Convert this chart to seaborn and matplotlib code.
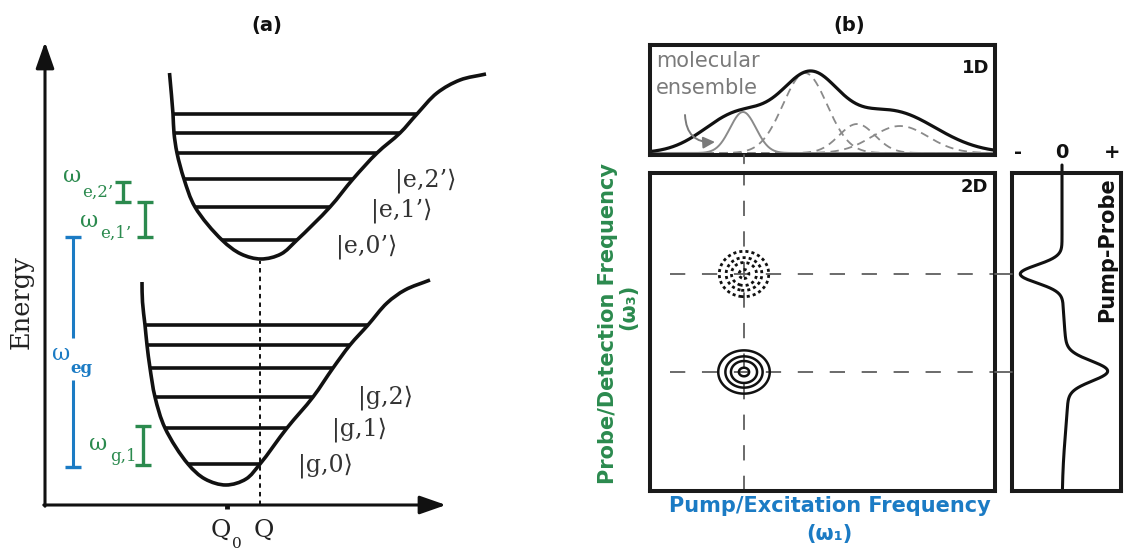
import numpy as np
import matplotlib
matplotlib.use("Agg")
import matplotlib.pyplot as plt
import seaborn as sns
from matplotlib.path import Path
from matplotlib.patches import PathPatch, ConnectionPatch

# ---------------------------------------------------------------------------
# Panel (a): displaced potential wells (x = nuclear coordinate, y = energy)
# ---------------------------------------------------------------------------
g_levels = [88, 124, 155, 184, 207, 227]          # ground-state vibrational levels
g_left = [188, 165, 155, 150, 147, 145]           # inner turning points
g_right = [260, 287, 313, 333, 350, 368]          # outer turning points
g_wall_top = [[142, 270], [142.5, 250]]
g_floor = [[205, 73], [226, 67], [246, 73]]
g_shoulder = [[387, 249], [405, 262], [430, 272]]

e_levels = [312, 345, 373, 399, 419, 438]          # excited-state vibrational levels
e_left = [222, 195, 184, 177, 174, 173]
e_right = [297, 330, 353, 377, 400, 417]
e_wall_top = [[169.5, 479]]
e_floor = [[241, 298], [261, 293], [281, 298]]
e_shoulder = [[437, 459], [460, 472], [486, 478]]

Q0, Q = 227, 260
axis_origin = [45, 47]
axis_tip_E = 510
axis_tip_Q = 446

g_kets = ["|g,0⟩", "|g,1⟩", "|g,2⟩"]
g_ket_pos = [[298, 86], [332, 122], [358, 154]]
e_kets = ["|e,0’⟩", "|e,1’⟩", "|e,2’⟩"]
e_ket_pos = [[336, 305], [371, 341], [395, 371]]

# frequency bars: x, lower energy, upper energy
bar_subs = ["e,2’", "e,1’", "eg", "g,1"]
bar_x = [123, 145, 73, 143]
bar_lo = [350, 315, 85, 87]
bar_hi = [370, 350, 315, 126]
eg_gap = [172, 214]
omega_pos = [[63, 370], [80, 325], [52, 192], [89, 102]]
sub_pos = [[82, 355], [100, 314], [70, 179], [110, 91]]

# ---------------------------------------------------------------------------
# Panel (b): 1D spectrum, 2D spectrum and pump-probe projection
# ---------------------------------------------------------------------------
w_grid = np.arange(0, 346, 1.0)                    # pump / probe frequency axis

env_center = [90, 160, 240]                        # ensemble absorption envelope
env_width = [35, 28, 45]
env_height = [40, 68, 42]

site_center = [93]                                 # highlighted sub-ensemble
site_width = [13]
site_height = [41]

other_center = [155, 207, 250]                     # remaining sub-ensembles
other_width = [22, 18, 28]
other_height = [80, 29, 27]

peak_w1 = [94, 94]                                 # 2D peaks (pump, probe)
peak_w3 = [217, 119]
peak_amp = [-1.0, 1.0]
peak_sx = [12.0, 12.5]
peak_sy = [11.0, 10.5]
contour_levels = [0.12, 0.33, 0.58, 0.92]

pp_center = [217, 120, 105]                        # pump-probe trace
pp_width = [9, 10, 45]
pp_amp = [-42, 40, 6]

GREEN = "#2B8A4E"
BLUE = "#1B7BC4"
GRAY = "#8a8a8a"
DGRAY = "#5f5f5f"


def gauss(x, c, s, h):
    return h * np.exp(-((x - c) ** 2) / (2.0 * s ** 2))


def smooth_path(points, alpha=0.5):
    """Centripetal Catmull-Rom curve through the points, as cubic Bezier segments."""
    P = np.asarray(points, float)
    ext = np.vstack([2 * P[0] - P[1], P, 2 * P[-1] - P[-2]])
    d = np.linalg.norm(np.diff(ext, axis=0), axis=1) ** alpha
    t = np.concatenate([[0.0], np.cumsum(d)])
    verts = [P[0]]
    codes = [Path.MOVETO]
    for i in range(1, len(ext) - 2):
        p0, p1, p2, p3 = ext[i - 1], ext[i], ext[i + 1], ext[i + 2]
        t0, t1, t2, t3 = t[i - 1], t[i], t[i + 1], t[i + 2]
        m1 = (t2 - t1) * ((p1 - p0) / (t1 - t0) - (p2 - p0) / (t2 - t0)
                          + (p2 - p1) / (t2 - t1))
        m2 = (t2 - t1) * ((p2 - p1) / (t2 - t1) - (p3 - p1) / (t3 - t1)
                          + (p3 - p2) / (t3 - t2))
        verts.extend([p1 + m1 / 3.0, p2 - m2 / 3.0, p2])
        codes.extend([Path.CURVE4] * 3)
    return Path(np.array(verts), codes)


def well_outline(wall_top, left, levels, floor, right, shoulder):
    pts = list(wall_top)
    pts += [[x, y] for x, y in zip(left[::-1], levels[::-1])]
    pts += list(floor)
    pts += [[x, y] for x, y in zip(right, levels)]
    pts += list(shoulder)
    return pts


sns.set_style("white")
plt.rcParams["font.family"] = ["DejaVu Sans"]
plt.rcParams["lines.scale_dashes"] = False
SERIF = ["DejaVu Serif", "DejaVu Sans"]

fig = plt.figure(figsize=(11.24, 5.52), dpi=100)
W, H = 1124.0, 552.0

# ---------------- panel (a) ----------------
ax = fig.add_axes([0, 0, 560 / W, 1])
ax.set_xlim(0, 560)
ax.set_ylim(0, 552)
ax.axis("off")
ax.patch.set_alpha(0)

# energy and coordinate axes
ox, oy = axis_origin
arrow = dict(arrowstyle="-|>,head_length=0.8,head_width=0.28", lw=2.2,
             color="#111111", mutation_scale=20, shrinkA=0, shrinkB=0)
ax.annotate("", xy=(ox, axis_tip_E), xytext=(ox, oy - 1.2), arrowprops=arrow)
ax.annotate("", xy=(axis_tip_Q, oy), xytext=(ox - 1.2, oy), arrowprops=arrow)

# wells
for wt, lft, lv, fl, rgt, sh in [
    (g_wall_top, g_left, g_levels, g_floor, g_right, g_shoulder),
    (e_wall_top, e_left, e_levels, e_floor, e_right, e_shoulder),
]:
    ax.hlines(lv, lft, rgt, colors="#111111", lw=2.6)
    ax.add_patch(PathPatch(smooth_path(well_outline(wt, lft, lv, fl, rgt, sh)),
                           fill=False, lw=2.6, ec="#111111", capstyle="butt",
                           joinstyle="round"))

# vertical transition coordinate
ax.plot([Q, Q], [oy, e_floor[1][1] - 2], color="#111111", lw=1.4,
        dashes=(3.2, 3.0))
ax.plot([Q0, Q0], [oy - 4, oy + 1], color="#111111", lw=3.5, solid_capstyle="butt")

ax.text(211, 15, "Q", ha="left", va="baseline", fontsize=18, color="#222222",
        family=SERIF)
ax.text(232, 4, "0", ha="left", va="baseline", fontsize=11, color="#222222",
        family=SERIF)
ax.text(254, 15, "Q", ha="left", va="baseline", fontsize=18, color="#222222",
        family=SERIF)
ax.text(21, 250, "Energy", rotation=90, ha="center", va="center", fontsize=18.5,
        color="#222222", family=SERIF)

for labels, pos in [(g_kets, g_ket_pos), (e_kets, e_ket_pos)]:
    for lab, (x, y) in zip(labels, pos):
        ax.text(x, y, lab, ha="left", va="center", fontsize=17, color="#333333",
                family=SERIF)

# frequency bars
for sub, x, lo, hi, (wx, wy), (sx, sy) in zip(bar_subs, bar_x, bar_lo, bar_hi,
                                                omega_pos, sub_pos):
    col = BLUE if sub == "eg" else GREEN
    if sub == "eg":
        ax.plot([x, x], [lo, eg_gap[0]], color=col, lw=2.2, solid_capstyle="butt")
        ax.plot([x, x], [eg_gap[1], hi], color=col, lw=2.2, solid_capstyle="butt")
    else:
        ax.plot([x, x], [lo, hi], color=col, lw=2.4, solid_capstyle="butt")
    ax.hlines([lo, hi], x - 8, x + 8, colors=col, lw=2.4)
    ax.text(wx, wy, "ω", ha="left", va="baseline", fontsize=16, color=col,
            family=SERIF)
    ax.text(sx, sy, sub, ha="left", va="baseline", fontsize=12, color=col,
            family=SERIF, fontweight="bold" if sub == "eg" else "normal")

fig.text(267 / W, 1 - 26 / H, "(a)", ha="center", va="center", fontsize=14,
         fontweight="bold", color="#111111")
fig.text(849 / W, 1 - 26 / H, "(b)", ha="center", va="center", fontsize=14,
         fontweight="bold", color="#111111")

# ---------------- panel (b): 1D ----------------
ax1 = fig.add_axes([650 / W, 1 - 155 / H, 345 / W, 110 / H])
ax1.set_xlim(0, 345)
ax1.set_ylim(-2, 108)

for c, s, h in zip(other_center, other_width, other_height):
    sns.lineplot(x=w_grid, y=gauss(w_grid, c, s, h), ax=ax1, color=GRAY, lw=1.3,
                 linestyle=(0, (6, 4)), estimator=None)
for c, s, h in zip(site_center, site_width, site_height):
    sns.lineplot(x=w_grid, y=gauss(w_grid, c, s, h), ax=ax1, color=GRAY, lw=1.4,
                 estimator=None)
envelope = sum(gauss(w_grid, c, s, h) for c, s, h in zip(env_center, env_width, env_height))
sns.lineplot(x=w_grid, y=envelope, ax=ax1, color="#111111", lw=2.3, estimator=None)

ax1.text(0.017, 0.945, "molecular\nensemble", transform=ax1.transAxes, ha="left",
         va="top", fontsize=15, color="#7a7a7a", linespacing=1.45)
ax1.annotate("", xy=(65, 11), xytext=(35, 38),
             arrowprops=dict(arrowstyle="-|>,head_length=0.5,head_width=0.25",
                             connectionstyle="arc3,rad=0.5", color="#7a7a7a",
                             lw=1.4, mutation_scale=14, shrinkA=0, shrinkB=0))
ax1.text(0.945, 0.79, "1D", transform=ax1.transAxes, ha="center", va="center",
         fontsize=13, fontweight="bold", color="#111111")

# ---------------- panel (b): 2D ----------------
ax2 = fig.add_axes([650 / W, 1 - 491 / H, 345 / W, 318 / H])
ax2.set_xlim(0, 345)
ax2.set_ylim(0, 318)

X, Y = np.meshgrid(np.linspace(0, 345, 691), np.linspace(0, 318, 637))
Z = np.zeros_like(X)
for x0, y0, a, sx, sy in zip(peak_w1, peak_w3, peak_amp, peak_sx, peak_sy):
    Z += a * np.exp(-((X - x0) ** 2) / (2 * sx ** 2) - ((Y - y0) ** 2) / (2 * sy ** 2))

ax2.axvline(peak_w1[0], color=DGRAY, lw=1.3, dashes=(11, 11))
for y0 in peak_w3:
    ax2.plot([20, 345], [y0, y0], color=DGRAY, lw=1.3, dashes=(11, 12))

cs_pos = ax2.contour(X, Y, Z, levels=contour_levels, colors="#111111",
                     linewidths=1.8, linestyles="solid")
cs_neg = ax2.contour(X, Y, Z, levels=[-v for v in contour_levels[::-1]],
                     colors="#111111", linewidths=2.0, linestyles="solid")
cs_neg.set_linestyle((0, (2.2, 2.2)))

ax2.text(0.94, 0.956, "2D", transform=ax2.transAxes, ha="center", va="center",
         fontsize=13, fontweight="bold", color="#111111")
ax2.text(0.52, -0.016, "Pump/Excitation Frequency\n(ω₁)", transform=ax2.transAxes,
         ha="center", va="top", fontsize=15, fontweight="bold", color=BLUE,
         linespacing=1.5)
fig.text(608 / W, 1 - 323 / H, "Probe/Detection Frequency", rotation=90,
         ha="center", va="center", fontsize=15, fontweight="bold", color=GREEN)
fig.text(628 / W, 1 - 307 / H, "(ω₃)", rotation=90, ha="center", va="center",
         fontsize=15, fontweight="bold", color=GREEN)

# ---------------- panel (b): pump-probe ----------------
ax3 = fig.add_axes([1012 / W, 1 - 491 / H, 109 / W, 318 / H])
ax3.set_xlim(-50, 59)
ax3.set_ylim(0, 318)
y_grid = np.arange(0, 326.5, 0.5)
pp = sum(gauss(y_grid, c, s, a) for c, s, a in zip(pp_center, pp_width, pp_amp))
sns.lineplot(x=pp, y=y_grid, ax=ax3, color="#111111", lw=2.2, sort=False,
             estimator=None, clip_on=False)
ax3.text(45, 241, "Pump-Probe", rotation=90, ha="center", va="center",
         fontsize=15, fontweight="bold", color="#111111")
for lab, xv in zip(["-", "0", "+"], [-44, 0, 50]):
    ax3.text(xv, 339, lab, ha="center", va="center", fontsize=14,
             fontweight="bold", color="#111111", clip_on=False)

# connectors between panels
fig.add_artist(ConnectionPatch(xyA=(peak_w1[0], -2), coordsA=ax1.transData,
                               xyB=(peak_w1[0], 318), coordsB=ax2.transData,
                               color=DGRAY, lw=1.3, linestyle=(0, (6, 30))))
for y0 in peak_w3:
    fig.add_artist(ConnectionPatch(xyA=(345, y0), coordsA=ax2.transData,
                                   xyB=(-50, y0), coordsB=ax3.transData,
                                   color=DGRAY, lw=1.3))

for a in (ax1, ax2, ax3):
    a.set_xticks([])
    a.set_yticks([])
    a.set_xlabel("")
    a.set_ylabel("")
    for sp in a.spines.values():
        sp.set_visible(True)
        sp.set_linewidth(2.9)
        sp.set_color("#1a1a1a")

fig.savefig("out.png", dpi=100)
